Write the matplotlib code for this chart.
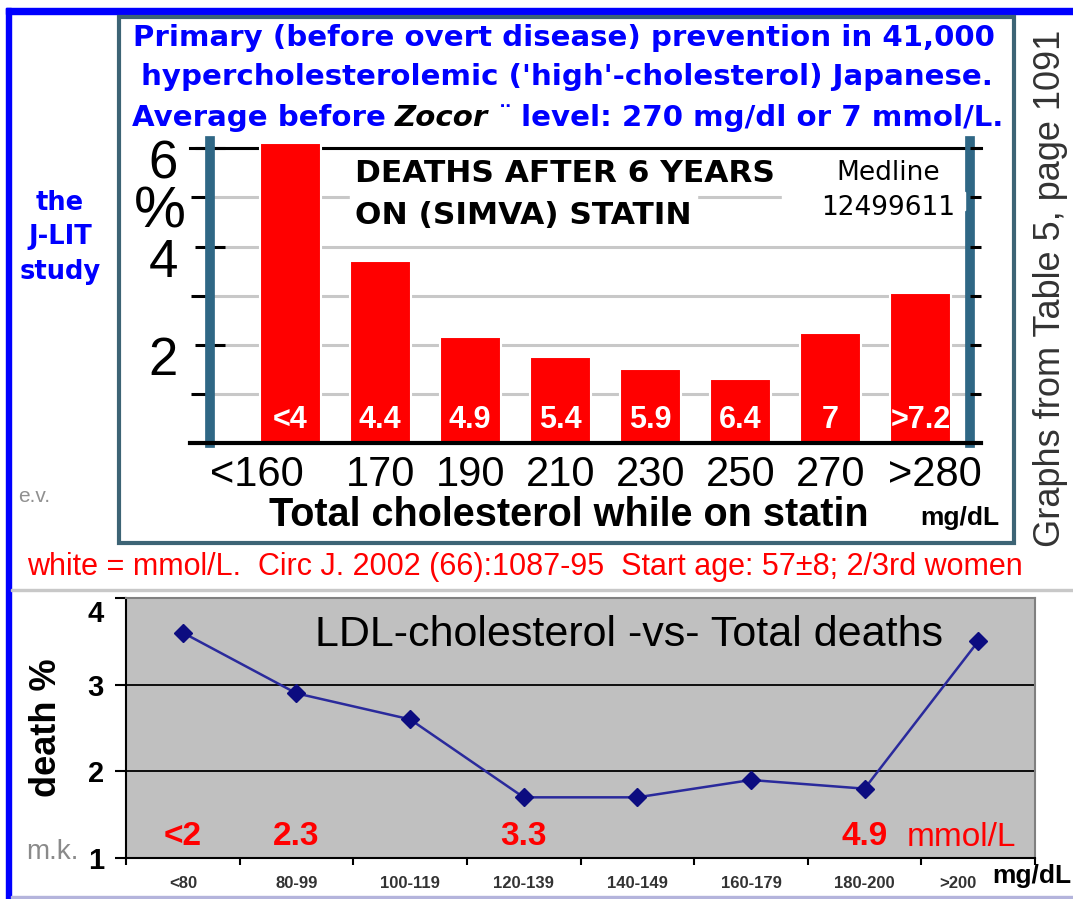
import matplotlib
matplotlib.use("Agg")
import numpy as np
import matplotlib.pyplot as plt
from matplotlib.patches import Rectangle
from matplotlib.transforms import ScaledTranslation

# top chart: deaths after 6 years on simvastatin, by total cholesterol (mg/dL)
tc_labels = ["<160", "170", "190", "210", "230", "250", "270", ">280"]
tc_mmol = ["<4", "4.4", "4.9", "5.4", "5.9", "6.4", "7", ">7.2"]
tc_deaths = [6.1, 3.7, 2.15, 1.75, 1.5, 1.3, 2.25, 3.05]

# bottom chart: LDL-cholesterol vs total deaths
ldl_labels = ["<80", "80-99", "100-119", "120-139", "140-149", "160-179", "180-200", ">200"]
ldl_deaths = [3.6, 2.9, 2.6, 1.7, 1.7, 1.9, 1.8, 3.5]
ldl_mmol = ["<2", "2.3", "3.3", "4.9"]
ldl_mmol_at = [0, 1, 3, 6]

plt.rcParams["font.family"] = ["Liberation Sans", "DejaVu Sans"]

W, H = 1073, 899
fig = plt.figure(figsize=(W / 100, H / 100), dpi=100)
BLUE = "#0000ff"
RED = "#ff0000"


def px_axes(left, top, right, bottom, **kw):
    return fig.add_axes([left / W, 1 - bottom / H, (right - left) / W, (bottom - top) / H], **kw)


def shift(label, dx_px, dy_px):
    label.set_transform(label.get_transform()
                        + ScaledTranslation(dx_px / 100, dy_px / 100, fig.dpi_scale_trans))


# ---------------- top bar chart ----------------
ax = px_axes(210, 141, 970, 443)
x = np.arange(len(tc_deaths))
ax.bar(x, tc_deaths, width=0.68, color=RED, edgecolor="white", linewidth=1.5, zorder=1)
ax.set_xlim(-0.89, 7.55)
ax.set_ylim(0, 6.15)
ax.set_axisbelow(True)

for side in ["left", "right"]:
    ax.spines[side].set_color("#2f6785")
    ax.spines[side].set_linewidth(7)
for side in ["top", "bottom"]:
    ax.spines[side].set_visible(False)

ax.set_yticks([2, 4, 6], ["2", "4", "6"])
ax.set_yticks([1, 3, 5], minor=True)
ax.grid(axis="y", which="both", color="#c8c8c8", linewidth=2.2)
ax.tick_params(axis="y", which="major", direction="inout", length=22, width=2.2,
               labelsize=38, pad=12)
ax.tick_params(axis="y", which="minor", direction="out", length=14, width=2.2)
for lab in ax.get_yticklabels():
    shift(lab, 0, -11)

ax.set_xticks(x, tc_labels)
ax.tick_params(axis="x", length=0, labelsize=30, pad=9)
shift(ax.get_xticklabels()[0], -33, 0)
shift(ax.get_xticklabels()[-1], 14, 0)

ax.axhline(6, xmin=-0.026, xmax=1.014, color="black", lw=2.2, clip_on=False, zorder=0.8)
ax.axhline(0, xmin=-0.026, xmax=1.014, color="black", lw=3, clip_on=False, zorder=3)

for i, s in enumerate(tc_mmol):
    ax.annotate(s, (i, 0), xytext=(0, 23), textcoords="offset pixels", ha="center",
                va="center", color="white", fontweight="bold", fontsize=22)

ax_r = ax.twinx()
ax_r.set_ylim(ax.get_ylim())
ax_r.set_yticks([1, 2, 3, 4, 5, 6], [])
ax_r.tick_params(direction="out", length=8, width=2.2)
for s in ax_r.spines.values():
    s.set_visible(False)

# ---------------- bottom line chart ----------------
bx = px_axes(126, 598, 1035, 858)
bx.set_facecolor("#c0c0c0")
bx.plot(range(len(ldl_deaths)), ldl_deaths, color="#2a2a9c", lw=1.8, marker="D", ms=9,
        mfc="#0c0c80", mec="#0c0c80", zorder=3)
bx.set_xlim(-0.5, 7.5)
bx.set_ylim(1, 4)
bx.set_yticks([1, 2, 3, 4])
bx.grid(axis="y", color="black", linewidth=1.3)
for side in ["left", "bottom"]:
    bx.spines[side].set_color("black")
    bx.spines[side].set_linewidth(1.5)
for side in ["top", "right"]:
    bx.spines[side].set_color("#808080")
    bx.spines[side].set_linewidth(1.5)
bx.tick_params(axis="y", direction="out", length=8, width=1.5, labelsize=21, pad=8)
for lab in bx.get_yticklabels():
    lab.set_fontweight("bold")
shift(bx.get_yticklabels()[-1], 0, -13)
bx.set_xticks(range(len(ldl_labels)), ldl_labels)
bx.set_xticks(np.arange(-0.5, 8, 1), minor=True)
bx.tick_params(axis="x", which="major", length=0, labelsize=12, labelcolor="#333333", pad=13)
bx.tick_params(axis="x", which="minor", direction="out", length=5, width=1.5)
for lab in bx.get_xticklabels():
    lab.set_fontweight("bold")
shift(bx.get_xticklabels()[-1], -20, 0)

for pos, s in zip(ldl_mmol_at, ldl_mmol):
    bx.text(pos, 0.081, s, transform=bx.get_xaxis_transform(), ha="center", va="center",
            color=RED, fontweight="bold", fontsize=24)

# ---------------- overlay in pixel coordinates ----------------
ov = fig.add_axes([0, 0, 1, 1], zorder=10)
ov.set_xlim(0, W)
ov.set_ylim(H, 0)
ov.axis("off")
ov.patch.set_visible(False)

ov.add_patch(Rectangle((6, 8), W - 6, 6, color=BLUE))
ov.add_patch(Rectangle((6, 8), 5, H - 8, color=BLUE))
ov.add_patch(Rectangle((11, 896), W - 11, 2, color="#b4b4dc"))
ov.add_patch(Rectangle((11, 589), W - 11, 2, color="#c8c8c8"))
ov.add_patch(Rectangle((118.5, 17), 895, 526, fill=False, edgecolor="#3d6475", lw=3))

title_kw = dict(family="DejaVu Sans", fontweight="bold", fontsize=21.1, ha="center", va="center")
ov.text(564, 38, "Primary (before overt disease) prevention in 41,000", color=BLUE, **title_kw)
ov.text(567, 77, "hypercholesterolemic ('high'-cholesterol) Japanese.", color=BLUE, **title_kw)

parts = [("Average before", dict(color=BLUE, fontweight="bold")),
         ("Zocor", dict(color="black", fontweight="bold", fontstyle="italic")),
         ("¨", dict(color=BLUE)),
         ("level: 270 mg/dl or 7 mmol/L.", dict(color=BLUE, fontweight="bold"))]
texts = [ov.text(0, 118, s, family="DejaVu Sans", fontsize=21.1, ha="left", va="center", **p)
         for s, p in parts]
renderer = fig.canvas.get_renderer()
widths = [t.get_window_extent(renderer).width for t in texts]
gap = 9
cur = 568 - (sum(widths) + gap * (len(texts) - 1)) / 2
for t, w in zip(texts, widths):
    t.set_x(cur)
    cur += w + gap

for s, yy in zip(["the", "J-LIT", "study"], [203, 237, 272]):
    ov.text(60, yy, s, family="DejaVu Sans", fontweight="bold", fontsize=18.5, color=BLUE,
            ha="center", va="center")

ov.text(160, 213, "%", fontsize=42, ha="center", va="center")

ov.add_patch(Rectangle((350, 192), 347, 18, color="white"))
ov.add_patch(Rectangle((782, 192), 183, 18, color="white"))
ov.text(355, 173, "DEATHS AFTER 6 YEARS", family="DejaVu Sans", fontweight="bold",
        fontsize=22.5, ha="left", va="center")
ov.text(355, 215, "ON (SIMVA) STATIN", family="DejaVu Sans", fontweight="bold",
        fontsize=22.5, ha="left", va="center")
ov.text(888, 173, "Medline", family="DejaVu Sans", fontsize=19, ha="center", va="center")
ov.text(888, 208, "12499611", family="DejaVu Sans", fontsize=19, ha="center", va="center")

ov.text(569, 515, "Total cholesterol while on statin", fontweight="bold", fontsize=28.5,
        ha="center", va="center")
ov.text(960, 518, "mg/dL", fontweight="bold", fontsize=19, ha="center", va="center")
ov.text(18, 497, "e.v.", fontsize=15, color="#909090", ha="left", va="center")
ov.text(27, 567, "white = mmol/L.  Circ J. 2002 (66):1087-95  Start age: 57±8; 2/3rd women",
        fontsize=22, color=RED, ha="left", va="center")
ov.text(1050, 288, "Graphs from Table 5, page 1091", fontsize=26, color="#333333",
        rotation=90, ha="center", va="center")

ov.text(315, 635, "LDL-cholesterol -vs- Total deaths", fontsize=31, ha="left", va="center")
ov.text(907, 837, "mmol/L", fontsize=24, color=RED, ha="left", va="center")
ov.text(47, 728, "death %", fontweight="bold", fontsize=26, rotation=90, ha="center", va="center")
ov.text(52, 852, "m.k.", fontsize=20, color="#8a8a8a", ha="center", va="center")
ov.text(992, 876, "mg/dL", fontweight="bold", fontsize=19, ha="left", va="center")

fig.savefig("out.png", dpi=100)
